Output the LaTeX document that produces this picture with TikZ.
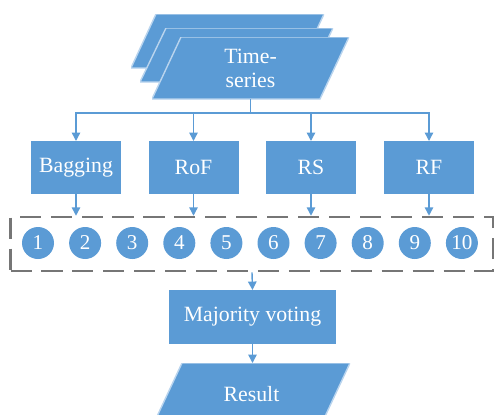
\documentclass[tikz,border=0pt]{standalone}
\usepackage{fontspec}
\setmainfont{Liberation Serif}
\usepackage{tikz}
\definecolor{stepblue}{RGB}{91, 155, 213}
\definecolor{edgeblue}{RGB}{185, 212, 238}
\definecolor{poolgray}{RGB}{118, 118, 118}
\usetikzlibrary{positioning,arrows.meta,shapes.geometric}

\begin{document}
\begin{tikzpicture}[>={Triangle[width=6pt,length=6pt]},
  every node/.style={font=\fontsize{15.5}{17}\selectfont, text=white},
  box/.style={rectangle, fill=stepblue, inner sep=0pt, outer sep=0pt, minimum width=2.25cm, minimum height=1.325cm, align=center},
  slab/.style={rectangle, inner sep=0pt, outer sep=0pt, align=center,
    path picture={\filldraw[fill=stepblue, draw=edgeblue, line width=1pt]
      (path picture bounding box.south west) -- ([xshift=-#1]path picture bounding box.south east)
      -- (path picture bounding box.north east) -- ([xshift=#1]path picture bounding box.north west) -- cycle;}},
  ball/.style={circle, fill=stepblue, inner sep=0pt, minimum size=0.8cm, font=\fontsize{15}{17}\selectfont},
  link/.style={draw=stepblue, line width=1pt}]
  \useasboundingbox (0,0) rectangle (12.35,-10.35);
  \clip (0,0) rectangle (12.35,-10.35);
  % input slabs
  \node[slab=0.625cm, minimum width=4.825cm, minimum height=1.35cm] (tsback) at (5.6875,-1.025) {};
  \node[slab=0.65cm, minimum width=4.825cm, minimum height=1.35cm] (tsmid) at (5.9125,-1.375) {};
  \node[slab=0.725cm, minimum width=4.925cm, minimum height=1.55cm] (ts) at (6.2625,-1.7) {Time-\\series};
  % ensembles
  \node[box] (bag) at (1.9,-4.1875) {Bagging};
  \node[box] (rof) at (4.8375,-4.1875) {RoF};
  \node[box] (rs) at (7.775,-4.1875) {RS};
  \node[box] (rf) at (10.725,-4.1875) {RF};
  % classifier pool
  \node[draw=poolgray, line width=1.8pt, dash pattern=on 15pt off 7pt, minimum width=12.075cm, minimum height=1.35cm, inner sep=0pt] (pool) at (6.3,-6.1) {};
  \foreach \i in {1,...,10}
    \node[ball] (b\i) at ({0.95+1.1775*(\i-1)},-6.075) {\i};
  \node[box, minimum width=4.175cm, minimum height=1.35cm] (vote) at (6.3125,-7.925) {Majority voting};
  \node[slab=0.725cm, minimum width=4.925cm, minimum height=1.55cm] (res) at (6.2875,-9.85) {Result};
  \coordinate (split) at (6.2625,-2.825);
  \draw[link] (ts.south) -- (split);
  \draw[link, ->] (split) -| (bag.north);
  \draw[link, ->] (split) -| (rof.north);
  \draw[link, ->] (split) -| (rs.north);
  \draw[link, ->] (split) -| (rf.north);
  \draw[link, ->] (bag.south) -- (bag.south |- pool.north);
  \draw[link, ->] (rof.south) -- (rof.south |- pool.north);
  \draw[link, ->] (rs.south) -- (rs.south |- pool.north);
  \draw[link, ->] (rf.south) -- (rf.south |- pool.north);
  \draw[link, ->] (pool.south) -- (vote.north);
  \draw[link, ->] (vote.south) -- (vote.south |- res.north);
\end{tikzpicture}
\end{document}
